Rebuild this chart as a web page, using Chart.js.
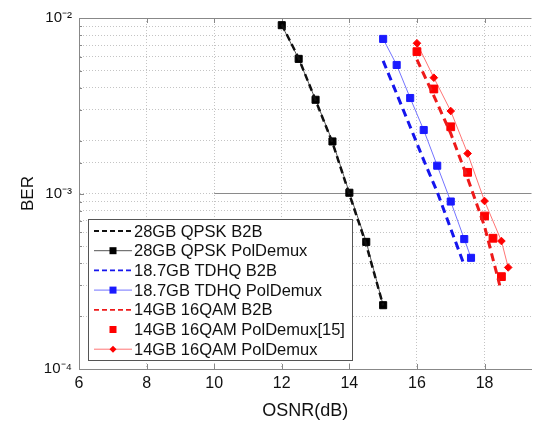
<!DOCTYPE html>
<html>
<head>
<meta charset="utf-8">
<script src="https://cdn.jsdelivr.net/npm/chart.js@4.4.1/dist/chart.umd.min.js"></script>
<style>
  html, body { margin: 0; padding: 0; background: #fff; }
  #wrap { width: 538px; height: 427px; overflow: hidden; }
</style>
</head>
<body>
<div id="wrap"><canvas id="berChart" width="538" height="427"></canvas></div>
<script>
// OSNR (dB) and BER, one pair of arrays per curve
const qpskB2bOsnr = [12, 12.5, 13, 13.5, 14, 14.5, 15];
const qpskB2bBer = [0.0092, 0.0059, 0.0034, 0.00195, 0.00099, 0.00051, 0.00023];
const qpskPolOsnr = [12, 12.5, 13, 13.5, 14, 14.5, 15];
const qpskPolBer = [0.0091, 0.00585, 0.00342, 0.00198, 0.00101, 0.00053, 0.000231];
const tdhqB2bOsnr = [15, 15.4, 15.8, 16.2, 16.6, 17, 17.4];
const tdhqB2bBer = [0.0057, 0.0037, 0.0024, 0.00155, 0.00102, 0.00063, 0.00039];
const tdhqPolOsnr = [15, 15.4, 15.8, 16.2, 16.6, 17, 17.4, 17.6];
const tdhqPolBer = [0.0076, 0.0054, 0.0035, 0.0023, 0.00144, 0.0009, 0.00055, 0.00043];
const qamB2bOsnr = [16, 16.5, 17, 17.5, 18, 18.45];
const qamB2bBer = [0.0058, 0.0036, 0.0022, 0.00122, 0.00065, 0.0003];
const qamRefOsnr = [16, 16.5, 17, 17.5, 18, 18.25, 18.5];
const qamRefBer = [0.00643, 0.00394, 0.0024, 0.00132, 0.000744, 0.000556, 0.000336];
const qamPolOsnr = [16, 16.5, 17, 17.5, 18, 18.5, 18.7];
const qamPolBer = [0.00718, 0.00457, 0.00295, 0.00169, 0.000906, 0.000536, 0.000379];
// FEC threshold line
const thresholdOsnr = [10, 20];
const thresholdBer = [0.001, 0.001];

const xTicks = [6, 8, 10, 12, 14, 16, 18];
const yTickValues = [1e-4, 1e-3, 1e-2];
const yTickLabels = ['10⁻⁴', '10⁻³', '10⁻²'];

const FONT = '"Liberation Sans", Arial, sans-serif';

function pts(xs, ys) {
  return xs.map((x, i) => ({ x: x, y: ys[i] }));
}

// legend drawn inside the plot, bottom-left, like the original figure
const legendBox = {
  id: 'legendBox',
  afterDatasetsDraw(chart) {
    const ctx = chart.ctx;
    const area = chart.chartArea;
    const items = chart.data.datasets.filter(d => d.label);
    const x0 = area.left + 9, w = 264, rowH = 19.7;
    const h = 141;
    const y0 = area.bottom - 9 - h;
    ctx.save();
    ctx.fillStyle = '#fff';
    ctx.fillRect(x0, y0, w, h);
    ctx.strokeStyle = '#555';
    ctx.lineWidth = 1;
    ctx.strokeRect(x0 + 0.5, y0 + 0.5, w, h);
    items.forEach((d, i) => {
      const y = y0 + 12 + i * rowH;
      if (d.showLine !== false) {
        ctx.beginPath();
        ctx.setLineDash(d.borderDash ? [5, 3] : []);
        ctx.strokeStyle = d.borderColor;
        ctx.lineWidth = d.borderDash ? 1.8 : 1;
        ctx.moveTo(x0 + 6, y);
        ctx.lineTo(x0 + 44, y);
        ctx.stroke();
        ctx.setLineDash([]);
      }
      if (d.pointRadius > 0) {
        ctx.fillStyle = d.pointBackgroundColor;
        const cx = x0 + 25;
        if (d.pointStyle === 'rectRot') {
          ctx.beginPath();
          ctx.moveTo(cx, y - 3.5);
          ctx.lineTo(cx + 3.5, y);
          ctx.lineTo(cx, y + 3.5);
          ctx.lineTo(cx - 3.5, y);
          ctx.closePath();
          ctx.fill();
        } else {
          ctx.fillRect(cx - 3.5, y - 3.5, 7, 7);
        }
      }
      ctx.fillStyle = '#111';
      ctx.font = '16.5px ' + FONT;
      ctx.textBaseline = 'middle';
      ctx.textAlign = 'left';
      ctx.fillText(d.label, x0 + 46, y + 1);
    });
    ctx.restore();
  }
};

// top border and small inward tick marks (matlab style)
const frame = {
  id: 'frame',
  beforeDatasetsDraw(chart) {
    const ctx = chart.ctx;
    const a = chart.chartArea;
    const xs = chart.scales.x, ys = chart.scales.y;
    ctx.save();
    ctx.strokeStyle = '#888';
    ctx.lineWidth = 1;
    ctx.beginPath();
    ctx.moveTo(a.left, a.top + 0.5);
    ctx.lineTo(a.right, a.top + 0.5);
    xs.ticks.forEach(t => {
      const px = Math.round(xs.getPixelForValue(t.value)) + 0.5;
      ctx.moveTo(px, a.top);
      ctx.lineTo(px, a.top + 5);
      ctx.moveTo(px, a.bottom);
      ctx.lineTo(px, a.bottom - 5);
    });
    ys.ticks.forEach(t => {
      const py = Math.round(ys.getPixelForValue(t.value)) + 0.5;
      const major = Math.abs(Math.log10(t.value) - Math.round(Math.log10(t.value))) < 1e-6;
      ctx.moveTo(a.left, py);
      ctx.lineTo(a.left + (major ? 5 : 3), py);
    });
    ctx.stroke();
    ctx.restore();
  }
};

const ctx = document.getElementById('berChart').getContext('2d');
new Chart(ctx, {
  type: 'line',
  data: {
    datasets: [
      {
        label: '28GB QPSK B2B',
        data: pts(qpskB2bOsnr, qpskB2bBer),
        borderColor: '#111', borderWidth: 2.5, borderDash: [7, 4],
        pointRadius: 0
      },
      {
        label: '28GB QPSK PolDemux',
        data: pts(qpskPolOsnr, qpskPolBer),
        borderColor: '#555', borderWidth: 1,
        pointStyle: 'rect', pointRadius: 5,
        pointBackgroundColor: '#000', pointBorderColor: '#000'
      },
      {
        label: '18.7GB TDHQ B2B',
        data: pts(tdhqB2bOsnr, tdhqB2bBer),
        borderColor: '#1515ee', borderWidth: 3, borderDash: [8, 5],
        pointRadius: 0
      },
      {
        label: '18.7GB TDHQ PolDemux',
        data: pts(tdhqPolOsnr, tdhqPolBer),
        borderColor: '#7373ff', borderWidth: 1,
        pointStyle: 'rect', pointRadius: 5,
        pointBackgroundColor: '#1a1aff', pointBorderColor: '#1a1aff'
      },
      {
        label: '14GB 16QAM B2B',
        data: pts(qamB2bOsnr, qamB2bBer),
        borderColor: '#ee1a1a', borderWidth: 3, borderDash: [8, 5],
        pointRadius: 0
      },
      {
        label: '14GB 16QAM PolDemux[15]',
        data: pts(qamRefOsnr, qamRefBer),
        showLine: false,
        pointStyle: 'rect', pointRadius: 5.5,
        pointBackgroundColor: '#ff0000', pointBorderColor: '#ff0000'
      },
      {
        label: '14GB 16QAM PolDemux',
        data: pts(qamPolOsnr, qamPolBer),
        borderColor: '#ff7474', borderWidth: 1,
        pointStyle: 'rectRot', pointRadius: 3.8,
        pointBackgroundColor: '#ff0000', pointBorderColor: '#ff0000'
      },
      {
        data: pts(thresholdOsnr, thresholdBer),
        borderColor: '#8a8a8a', borderWidth: 1.2,
        pointRadius: 0, order: 10
      }
    ]
  },
  options: {
    responsive: false,
    animation: false,
    events: [],
    layout: { padding: { top: 18, right: 0, left: 0, bottom: 0 } },
    plugins: { legend: { display: false }, tooltip: { enabled: false } },
    scales: {
      x: {
        type: 'linear',
        min: 6,
        max: 6 + (538 - 79) / 34.28,
        afterBuildTicks: s => { s.ticks = xTicks.map(v => ({ value: v })); },
        afterFit: s => { s.height = 58; },
        grid: { color: '#c4c4c4', lineWidth: 1, drawTicks: false },
        border: { color: '#888', dash: [1, 2] },
        ticks: {
          padding: 5, color: '#111',
          font: { family: FONT, size: 16 }
        },
        title: {
          display: true, text: 'OSNR(dB)', color: '#111',
          font: { family: FONT, size: 18 },
          padding: { top: 0, bottom: 5 }
        }
      },
      y: {
        type: 'logarithmic',
        min: 1e-4,
        max: 1e-2,
        afterFit: s => { s.width = 79; },
        grid: { color: '#c4c4c4', lineWidth: 1, drawTicks: false },
        border: { color: '#888', dash: [1, 2] },
        ticks: {
          autoSkip: false, padding: 7, color: '#111',
          font: { family: FONT, size: 15 },
          callback: v => {
            const i = yTickValues.findIndex(t => Math.abs(Math.log10(t) - Math.log10(v)) < 1e-6);
            return i >= 0 ? yTickLabels[i] : '';
          }
        },
        title: {
          display: true, text: 'BER', color: '#111',
          font: { family: FONT, size: 17 },
          padding: { top: 18, bottom: 0 }
        }
      }
    }
  },
  plugins: [frame, legendBox]
});
</script>
</body>
</html>
